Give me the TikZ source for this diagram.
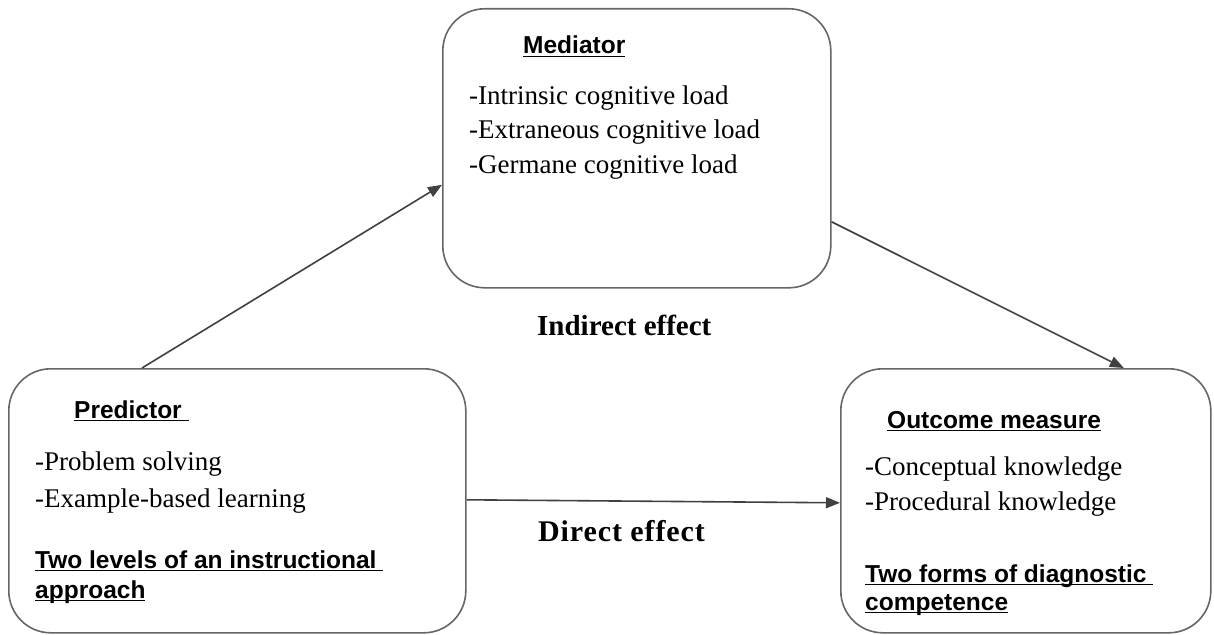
\documentclass[tikz,border=0pt]{standalone}
\usepackage{fontspec}
\setmainfont{Liberation Serif}
\newfontfamily\arialf{Liberation Sans}
\usetikzlibrary{arrows.meta,calc}
\newcommand\myul[1]{\setbox0=\hbox{#1}\rlap{\rule[-3.2pt]{\wd0}{1.6pt}}\box0}
\tikzset{
  box/.style={draw=black!60, line width=1.6pt, rounded corners=42pt, inner sep=0pt, anchor=north west},
  body/.style={anchor=base west, inner sep=0pt, font=\fontsize{27}{30}\selectfont},
  head/.style={anchor=base west, inner sep=0pt, font=\fontsize{24.5}{30}\selectfont\arialf\bfseries},
  eff/.style={anchor=base west, inner sep=0pt, font=\fontsize{29}{32}\selectfont\bfseries},
  arr/.style={draw=black!75, line width=1.6pt, -{Triangle[length=14pt,width=11pt]}}
}
\begin{document}
\begin{tikzpicture}[x=1pt,y=-1pt]
\useasboundingbox (0,0) rectangle (1214,634);
% boxes
\node[box, minimum width=388pt, minimum height=279pt] (med) at (442,8) {};
\node[box, minimum width=457pt, minimum height=264pt] (pred) at (8,368) {};
\node[box, minimum width=370pt, minimum height=264pt] (out) at (840,368) {};
% mediator text
\node[head] (medh) at (523,54) {\myul{Mediator}};
\node[body] (med1) at (469,104) {-Intrinsic cognitive load};
\node[body] (med2) at (469,138) {-Extraneous cognitive load};
\node[body] (med3) at (469,173) {-Germane cognitive load};
% predictor text
\node[head] (predh) at (74,418) {\myul{Predictor\ }};
\node[body] (pred1) at (35,470) {-Problem solving};
\node[body] (pred2) at (35,507) {-Example-based learning};
\node[head] (pred3) at (35,568) {\myul{Two levels of an instructional\ }};
\node[head] (pred4) at (35,598) {\myul{approach}};
% outcome text
\node[head] (outh) at (887,428) {\myul{Outcome measure}};
\node[body] (out1) at (865,475) {-Conceptual knowledge};
\node[body] (out2) at (865,510) {-Procedural knowledge};
\node[head] (out3) at (865,582) {\myul{Two forms of diagnostic\ }};
\node[head] (out4) at (865,610) {\myul{competence}};
% effect labels
\node[eff] (ind) at (537,335) {Indirect effect};
\node[eff, font=\fontsize{30}{32}\selectfont\bfseries] (dir) at (538,541) {\addfontfeature{LetterSpace=3}Direct effect};
% arrows
\draw[arr] ([xshift=134pt]pred.north west) -- ([yshift=-36.5pt]med.west);
\draw[arr] ([yshift=-73.5pt]med.east) -- ([xshift=98pt]out.north);
\draw[arr] ([yshift=1pt]pred.east) -- ([yshift=-2pt]out.west);
\end{tikzpicture}
\end{document}
